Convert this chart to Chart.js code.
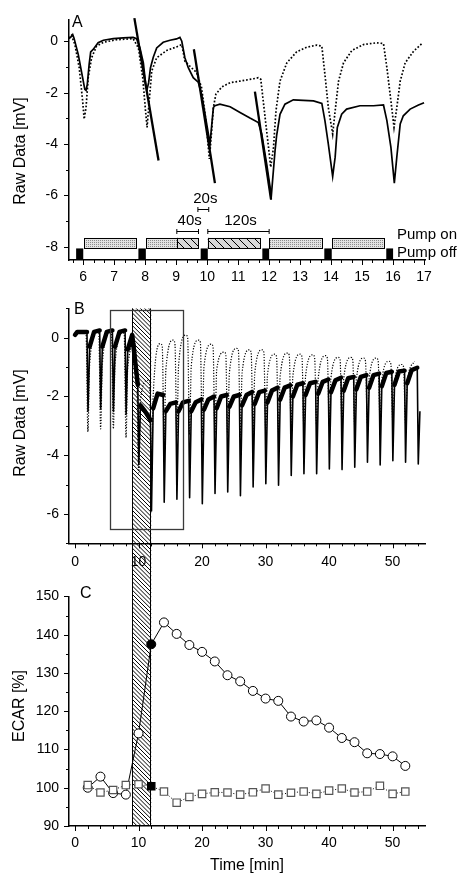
<!DOCTYPE html>
<html><head><meta charset="utf-8">
<script src="https://cdn.jsdelivr.net/npm/chart.js@4/dist/chart.umd.min.js"></script>
<style>
html,body{margin:0;padding:0;background:#fff;width:461px;height:878px;overflow:hidden}
.wrap{position:absolute;left:0;width:461px}
canvas{display:block}
</style></head><body>
<div class="wrap" style="top:0;height:290px"><canvas id="cA" width="461" height="290"></canvas></div>
<div class="wrap" style="top:290px;height:288px"><canvas id="cB" width="461" height="288"></canvas></div>
<div class="wrap" style="top:578px;height:300px"><canvas id="cC" width="461" height="300"></canvas></div>
<script>
// ---------------- DATA ----------------
// Panel A (zoom, 5.5 - 17 min)
const aSolid = [[5.54,0.10],[5.62,0.19],[5.66,0.26],[5.70,0.13],[5.84,-0.52],[5.98,-1.42],[6.05,-1.87],[6.09,-1.91],[6.13,-1.68],[6.19,-0.90],[6.24,-0.41],[6.32,-0.32],[6.48,-0.06],[6.65,0.04],[6.97,0.10],[7.29,0.13],[7.61,0.15],[7.72,0.10],
[7.83,-0.26],[7.94,-0.84],[8.02,-1.74],[8.06,-1.87],[8.11,-1.61],[8.17,-1.03],[8.26,-0.62],[8.37,-0.26],[8.58,-0.04],[8.80,0.04],[9.01,0.09],[9.12,0.15],[9.18,0.0],
[9.28,-0.64],[9.39,-1.03],[9.55,-1.42],[9.71,-1.59],[9.82,-2.06],[9.93,-2.84],[10.04,-3.61],[10.09,-4.0],[10.14,-3.35],[10.20,-2.58],[10.25,-2.51],[10.41,-2.45],[10.74,-2.55],[11.06,-2.77],[11.38,-2.99],[11.65,-3.16],
[11.76,-3.61],[11.92,-4.77],[12.03,-5.67],[12.06,-6.16],[12.11,-5.42],[12.19,-4.26],[12.24,-3.68],[12.35,-2.84],[12.51,-2.45],[12.78,-2.28],[13.10,-2.30],[13.43,-2.32],[13.70,-2.42],
[13.80,-3.09],[13.91,-4.0],[14.05,-5.26],[14.13,-4.51],[14.20,-3.35],[14.34,-2.84],[14.50,-2.64],[14.93,-2.51],[15.37,-2.51],[15.69,-2.48],
[15.80,-3.09],[15.93,-4.13],[16.04,-5.52],[16.12,-4.51],[16.23,-3.22],[16.33,-2.90],[16.55,-2.64],[16.82,-2.48],[17.0,-2.39]];
const aDotted = [[5.54,0.12],[5.62,0.23],[5.73,-0.13],[5.87,-1.03],[5.98,-2.32],[6.03,-3.03],[6.09,-2.58],[6.16,-1.42],[6.27,-0.64],[6.43,-0.19],[6.65,-0.04],[7.08,0.06],[7.61,0.10],
[7.78,-0.26],[7.92,-1.42],[8.01,-2.71],[8.06,-3.35],[8.12,-2.45],[8.21,-1.16],[8.37,-0.64],[8.69,-0.36],[9.01,-0.22],[9.18,-0.13],
[9.28,-0.77],[9.44,-0.97],[9.66,-1.22],[9.82,-1.81],[9.96,-3.09],[10.07,-4.58],[10.12,-3.87],[10.20,-2.58],[10.28,-2.06],[10.47,-1.78],[10.74,-1.61],[11.06,-1.55],[11.49,-1.46],[11.65,-1.42],[11.73,-1.48],
[11.87,-2.97],[11.98,-4.13],[12.05,-4.90],[12.14,-4.13],[12.22,-2.71],[12.35,-1.55],[12.57,-0.84],[12.89,-0.41],[13.21,-0.23],[13.54,-0.15],[13.70,-0.19],
[13.80,-1.29],[13.91,-2.58],[14.05,-3.61],[14.13,-2.71],[14.24,-1.55],[14.40,-0.84],[14.67,-0.36],[15.04,-0.13],[15.47,-0.06],[15.69,-0.09],
[15.80,-1.03],[15.93,-2.32],[16.03,-3.35],[16.12,-2.58],[16.23,-1.55],[16.39,-0.84],[16.66,-0.39],[16.96,-0.06]];
const aSlope1 = [[7.65,0.90],[8.43,-4.64]];
const aSlope2 = [[9.57,-0.31],[10.25,-5.52]];
const aSlope3 = [[11.54,-1.96],[12.06,-6.15]];
const aXTicks = [6,7,8,9,10,11,12,13,14,15,16,17];
const aYTicks = [-8,-6,-4,-2,0];
const pumpOnSpans = [[6.03,7.70],[8.03,9.72],[10.02,11.70],[12.0,13.70],[14.03,15.70]];
const pumpHatchSpans = [[9.02,9.72],[10.02,11.70]];
const pumpOffSpans = [[5.77,6.0],[7.78,8.02],[9.79,10.02],[11.78,12.0],[13.78,14.02],[15.78,16.0]];
const pumpOnLevel = [-8.05,-7.65];
const pumpOffLevel = [-8.51,-8.06];
const bracketLabels = ['20s','40s','120s'];
const bracketSpans = [[9.70,10.05],[9.02,9.72],[10.02,12.0]];
const bracketLevels = [-6.54,-7.38,-7.38];
const pumpLabels = ['Pump on','Pump off'];

// Panel B (whole experiment)
const bDipTimes  = [2,4,6,8,10,12,14,16,18,20,22,24,26,28,30,32,34,36,38,40,42,44,46,48,50,52,54];
const bSolidPre  = [0.2,0.25,0.25,0.25,-1.6,-2.8,-1.95,-2.2,-2.15,-2.1,-2.0,-1.95,-1.95,-1.85,-1.8,-1.7,-1.62,-1.55,-1.5,-1.42,-1.36,-1.33,-1.27,-1.22,-1.16,-1.12,-1.02];
const bSolidMin  = [-2.5,-2.4,-2.5,-2.6,-4.3,-5.9,-5.6,-5.5,-5.45,-5.65,-5.3,-5.25,-5.38,-5.08,-4.97,-5.02,-4.69,-4.63,-4.63,-4.47,-4.49,-4.41,-4.24,-4.33,-4.19,-4.24,-4.3];
const bSolidPost = [-0.3,-0.3,-0.3,-0.4,-2.3,-2.4,-2.5,-2.5,-2.5,-2.45,-2.4,-2.35,-2.3,-2.25,-2.2,-2.1,-2.0,-1.95,-1.9,-1.85,-1.8,-1.75,-1.7,-1.65,-1.6,-1.55,-2.5];
const bSolidMid  = [0.2,0.2,0.2,0.1,-2.5,-1.9,-2.25,-2.2,-2.2,-2.1,-2.0,-2.0,-1.95,-1.85,-1.8,-1.7,-1.6,-1.55,-1.5,-1.45,-1.38,-1.33,-1.27,-1.2,-1.15,-1.1,null];
const bSolidStart = [[0,0.1],[0.35,0.2]];
const bDotTimes = [2,4,6,8,10,12,14,16,18,20,22,24,26,28,30,32,34,36,38,40,42,44,46,48,50,52];
const bDotPre  = [0.15,0.2,0.2,0.15,-1.3,-1.5,-0.3,-0.2,0.0,-0.15,-0.3,-0.55,-0.45,-0.5,-0.5,-0.65,-0.6,-0.65,-0.7,-0.7,-0.75,-0.75,-0.8,-0.8,-0.9,-1.0];
const bDotMin  = [-3.2,-3.1,-3.1,-3.4,-4.6,-4.9,-3.6,-3.35,-3.3,-3.3,-3.3,-3.3,-3.3,-3.2,-3.2,-3.2,-3.1,-3.1,-3.0,-3.0,-3.0,-3.0,-2.9,-2.9,-2.9,-2.9];
const bDotKnee = [-0.9,-0.9,-0.9,-1.0,-2.1,-2.0,-1.1,-0.95,-0.95,-1.0,-1.1,-1.2,-1.2,-1.2,-1.25,-1.3,-1.3,-1.3,-1.35,-1.35,-1.4,-1.4,-1.4,-1.45,-1.5,-1.55];
const bDotPeak = [0.2,0.2,0.15,-0.2,-1.45,-0.2,-0.08,0.09,-0.08,-0.22,-0.49,-0.36,-0.41,-0.41,-0.56,-0.52,-0.56,-0.58,-0.61,-0.67,-0.67,-0.69,-0.69,-0.8,-0.91,-0.8];
const bDotStart = [[0,0.05],[0.5,0.15]];
const bInsetX = [5.5,17.0];
const bInsetY = [-6.5,0.95];
const bXTicks = [0,10,20,30,40,50];
const bYTicks = [-6,-4,-2,0];

// Panel C (ECAR)
const cTimes   = [2,4,6,8,10,12,14,16,18,20,22,24,26,28,30,32,34,36,38,40,42,44,46,48,50,52];
const cCircles = [100,102.9,98.6,98.2,114.2,137.5,143.2,140.2,137.3,135.5,133,129.4,127.8,125.3,123.3,122.7,118.6,117.3,117.6,115.7,113,111.9,109,108.8,108.2,105.7];
const cSquares = [100.7,98.75,99.4,100.7,100.9,100.4,99,96.1,97.6,98.4,98.8,98.75,98.2,98.8,99.8,98.2,98.7,99,98.4,99.25,99.8,98.75,99,100.5,98.4,99];
const cFilledTime = 12;
const cXTicks = [0,10,20,30,40,50];
const cYTicks = [90,100,110,120,130,140,150];
const treatmentSpan = [9,12];

// ---------------- HELPERS ----------------
const FONT = '"Liberation Sans", Arial, Helvetica, sans-serif';
Chart.defaults.font.family = FONT;
Chart.defaults.font.size = 14;
Chart.defaults.color = '#000';
const xy = arr => arr.map(([x,y]) => ({x,y}));

function linAxis(min, max, majors, padding, fit) {
  return {
    type: 'linear', min, max,
    border: {display: true, color: '#000', width: 1.5},
    grid: {display: true, drawOnChartArea: false, drawTicks: false, color: 'rgba(0,0,0,0)'},
    ticks: {padding, color: '#000', font: {size: 14, family: FONT}, autoSkip: false, maxRotation: 0, callback: v => String(v)},
    afterBuildTicks: s => { s.ticks = majors.map(v => ({value: v})); },
    afterFit: fit
  };
}
function makeTicks(cfg) {
  return { id: 'tickMarks', afterDraw(chart) {
    const {ctx, chartArea: ca} = chart;
    ctx.save(); ctx.strokeStyle = '#000'; ctx.lineWidth = 1;
    for (const id of Object.keys(cfg)) {
      const s = chart.scales[id], c = cfg[id];
      for (let k = Math.ceil(s.min / c.step - 1e-6); k * c.step <= s.max + 1e-6; k++) {
        const v = k * c.step;
        const major = c.majors.some(m => Math.abs(m - v) < 1e-6);
        const len = major ? 5 : 3;
        const p = Math.round(s.getPixelForValue(v)) + 0.5;
        ctx.beginPath();
        if (s.isHorizontal()) { ctx.moveTo(p, ca.bottom); ctx.lineTo(p, ca.bottom + len); }
        else { ctx.moveTo(ca.left, p); ctx.lineTo(ca.left - len, p); }
        ctx.stroke();
      }
    }
    ctx.restore();
  }};
}
function makeTexts(items) {
  return { id: 'texts', afterDraw(chart) {
    const ctx = chart.ctx;
    items.forEach(t => {
      ctx.save();
      ctx.font = (t.size || 14) + 'px ' + FONT;
      ctx.fillStyle = '#000';
      ctx.textAlign = t.align || 'center';
      ctx.textBaseline = t.base || 'middle';
      ctx.translate(t.x, t.y);
      if (t.rot) ctx.rotate(t.rot);
      ctx.fillText(t.text, 0, 0);
      ctx.restore();
    });
  }};
}
function hatch(ctx, x0, y0, x1, y1, spacing, pageOff, lw) {
  ctx.save();
  ctx.beginPath(); ctx.rect(x0, y0, x1 - x0, y1 - y0); ctx.clip();
  ctx.beginPath();
  const cMin = (y0 + pageOff) - x1, cMax = (y1 + pageOff) - x0;
  for (let c = Math.floor(cMin / spacing) * spacing; c <= cMax + spacing; c += spacing) {
    ctx.moveTo(x0 - 2, x0 - 2 + c - pageOff);
    ctx.lineTo(x1 + 2, x1 + 2 + c - pageOff);
  }
  ctx.lineWidth = lw; ctx.strokeStyle = '#000'; ctx.stroke();
  ctx.restore();
}
function makeBand(pageOff, mode) {
  return { id: 'band', beforeDatasetsDraw(chart) {
    const {ctx, chartArea: ca, scales: {x}} = chart;
    const x0 = x.getPixelForValue(treatmentSpan[0]), x1 = x.getPixelForValue(treatmentSpan[1]);
    const y0 = mode === 'B' ? ca.top : 0;
    const y1 = mode === 'B' ? chart.height : ca.bottom;
    ctx.save();
    hatch(ctx, x0, y0, x1, y1, 4.2, pageOff, 1);
    ctx.strokeStyle = '#000'; ctx.lineWidth = 1;
    ctx.beginPath();
    ctx.moveTo(Math.round(x0) + 0.5, y0); ctx.lineTo(Math.round(x0) + 0.5, y1);
    ctx.moveTo(Math.round(x1) - 0.5, y0); ctx.lineTo(Math.round(x1) - 0.5, y1);
    ctx.stroke();
    ctx.restore();
  }};
}
const baseOpts = {responsive: false, animation: false, events: []};
const noPlug = {legend: {display: false}, tooltip: {enabled: false}};

// stipple pattern for pump bars
const pc = document.createElement('canvas'); pc.width = 2; pc.height = 2;
const pcx = pc.getContext('2d');
pcx.fillStyle = '#e2e2e2'; pcx.fillRect(0, 0, 2, 2);
pcx.fillStyle = '#8c8c8c'; pcx.fillRect(0, 0, 1, 1);

// ---------------- CHART A ----------------
const pumpPlugin = { id: 'pump', afterDatasetsDraw(chart) {
  const {ctx, scales: {x, y}} = chart;
  const X = v => x.getPixelForValue(v), Y = v => y.getPixelForValue(v);
  ctx.save();
  const pat = ctx.createPattern(pc, 'repeat');
  const yt = Y(pumpOnLevel[1]), yb = Y(pumpOnLevel[0]);
  pumpOnSpans.forEach(([a, b]) => { ctx.fillStyle = pat; ctx.fillRect(X(a), yt, X(b) - X(a), yb - yt); });
  pumpHatchSpans.forEach(([a, b]) => {
    ctx.fillStyle = '#d9d9d9'; ctx.fillRect(X(a), yt, X(b) - X(a), yb - yt);
    hatch(ctx, X(a), yt, X(b), yb, 8, 0, 1);
  });
  ctx.strokeStyle = '#000'; ctx.lineWidth = 1;
  pumpOnSpans.forEach(([a, b]) => { ctx.strokeRect(Math.round(X(a)) + 0.5, Math.round(yt) + 0.5, Math.round(X(b) - X(a)), Math.round(yb - yt)); });
  ctx.beginPath();
  pumpHatchSpans.forEach(([a]) => { ctx.moveTo(Math.round(X(a)) + 0.5, yt); ctx.lineTo(Math.round(X(a)) + 0.5, yb); });
  ctx.stroke();
  ctx.fillStyle = '#000';
  const ot = Y(pumpOffLevel[1]), ob = Y(pumpOffLevel[0]);
  pumpOffSpans.forEach(([a, b]) => ctx.fillRect(X(a), ot, X(b) - X(a), ob - ot));
  // brackets
  ctx.lineWidth = 1;
  bracketSpans.forEach(([a, b], i) => {
    const yy = Math.round(Y(bracketLevels[i])) + 0.5;
    ctx.beginPath();
    ctx.moveTo(X(a), yy); ctx.lineTo(X(b), yy);
    ctx.moveTo(X(a), yy - 2.5); ctx.lineTo(X(a), yy + 2.5);
    ctx.moveTo(X(b), yy - 2.5); ctx.lineTo(X(b), yy + 2.5);
    ctx.stroke();
    ctx.font = '15px ' + FONT; ctx.textAlign = 'center'; ctx.textBaseline = 'alphabetic';
    ctx.fillText(bracketLabels[i], (X(a) + X(b)) / 2 + 2, yy - 7);
  });
  ctx.font = '15px ' + FONT; ctx.textAlign = 'left'; ctx.textBaseline = 'middle';
  ctx.fillText(pumpLabels[0], 397, 235);
  ctx.fillText(pumpLabels[1], 397, 252.5);
  ctx.restore();
}};

new Chart(document.getElementById('cA'), {
  type: 'line',
  data: {datasets: [
    {data: xy(aSolid), borderColor: '#000', borderWidth: 1.7, pointRadius: 0, tension: 0},
    {data: xy(aDotted), borderColor: '#000', borderWidth: 1.7, borderDash: [1.7, 1.9], pointRadius: 0, tension: 0},
    {data: xy(aSlope1), borderColor: '#000', borderWidth: 2.3, pointRadius: 0, clip: false},
    {data: xy(aSlope2), borderColor: '#000', borderWidth: 2.3, pointRadius: 0, clip: false},
    {data: xy(aSlope3), borderColor: '#000', borderWidth: 2.3, pointRadius: 0, clip: false}
  ]},
  options: Object.assign({}, baseOpts, {
    layout: {padding: {left: 0, right: 36, top: 18, bottom: 0}},
    scales: {
      x: linAxis(5.54, 17.03, aXTicks, 9, s => { s.height = 30; }),
      y: linAxis(-8.51, 0.85, aYTicks, 11, s => { s.width = 69; })
    },
    plugins: noPlug
  }),
  plugins: [pumpPlugin,
    makeTicks({x: {majors: aXTicks, step: 1/3}, y: {majors: aYTicks, step: 1}}),
    makeTexts([
      {text: 'A', x: 72, y: 27, size: 16, align: 'left', base: 'alphabetic'},
      {text: 'Raw Data [mV]', x: 21, y: 151, size: 16, rot: -Math.PI / 2}
    ])]
});

// ---------------- CHART B ----------------
const bSolid = xy(bSolidStart);
bDipTimes.forEach((t, i) => {
  bSolid.push({x: t - 0.12, y: bSolidPre[i]}, {x: t + 0.04, y: bSolidMin[i]}, {x: t + 0.3, y: bSolidPost[i]});
  if (bSolidMid[i] !== null) bSolid.push({x: t + 1.0, y: bSolidMid[i]});
});
const bDot = xy(bDotStart);
bDotTimes.forEach((t, i) => {
  bDot.push({x: t - 0.27, y: bDotPre[i]}, {x: t + 0.03, y: bDotMin[i]}, {x: t + 0.3, y: bDotKnee[i]}, {x: t + 1.45, y: bDotPeak[i]});
});
const insetPlugin = { id: 'inset', afterDatasetsDraw(chart) {
  const {ctx, scales: {x, y}} = chart;
  const x0 = Math.round(x.getPixelForValue(bInsetX[0])) + 0.5, x1 = Math.round(x.getPixelForValue(bInsetX[1])) + 0.5;
  const y0 = Math.round(y.getPixelForValue(bInsetY[1])) + 0.5, y1 = Math.round(y.getPixelForValue(bInsetY[0])) + 0.5;
  ctx.save(); ctx.strokeStyle = '#3a3a3a'; ctx.lineWidth = 1.3;
  ctx.strokeRect(x0, y0, x1 - x0, y1 - y0); ctx.restore();
}};
const thickSeg = c => (c.p1.parsed.x - c.p0.parsed.x) >= 0.34;
new Chart(document.getElementById('cB'), {
  type: 'line',
  data: {datasets: [
    {data: bSolid, borderColor: '#000', borderWidth: 1.6, pointRadius: 0, tension: 0, borderJoinStyle: 'round',
     segment: {borderWidth: c => thickSeg(c) ? 4.5 : 1.6, borderCapStyle: c => thickSeg(c) ? 'round' : 'butt'}},
    {data: bDot, borderColor: '#000', borderWidth: 1.2, borderDash: [1.2, 1.6], pointRadius: 0, cubicInterpolationMode: 'monotone'}
  ]},
  options: Object.assign({}, baseOpts, {
    layout: {padding: {left: 0, right: 36, top: 13.3, bottom: 0}},
    scales: {
      x: linAxis(-0.95, 55.1, bXTicks, 10, s => { s.height = 34.7; }),
      y: linAxis(-7, 1, bYTicks, 10, s => { s.width = 69; })
    },
    plugins: noPlug
  }),
  plugins: [makeBand(290, 'B'), insetPlugin,
    makeTicks({x: {majors: bXTicks, step: 2}, y: {majors: bYTicks, step: 1}}),
    makeTexts([
      {text: 'B', x: 74, y: 23.5, size: 16, align: 'left', base: 'alphabetic'},
      {text: 'Raw Data [mV]', x: 21, y: 133, size: 16, rot: -Math.PI / 2}
    ])]
});

// ---------------- CHART C ----------------
const fillFor = t => t === cFilledTime ? '#000' : '#fff';
new Chart(document.getElementById('cC'), {
  type: 'line',
  data: {datasets: [
    {data: cTimes.map((t, i) => ({x: t, y: cSquares[i]})), borderColor: '#000', borderWidth: 1, borderDash: [1, 2],
     pointStyle: 'rect', pointRadius: 5.2, pointBorderWidth: 1.2,
     pointBorderColor: cTimes.map(t => t === cFilledTime ? '#000' : '#555'),
     pointBackgroundColor: cTimes.map(fillFor)},
    {data: cTimes.map((t, i) => ({x: t, y: cCircles[i]})), borderColor: '#000', borderWidth: 1,
     pointStyle: 'circle', pointRadius: 4.5, pointBorderWidth: 1, pointBorderColor: '#000',
     pointBackgroundColor: cTimes.map(fillFor)}
  ]},
  options: Object.assign({}, baseOpts, {
    layout: {padding: {left: 0, right: 36, top: 8.7, bottom: 0}},
    scales: {
      x: linAxis(-0.95, 55.1, cXTicks, 9, s => { s.height = 52; }),
      y: linAxis(90, 150, cYTicks, 10, s => { s.width = 69; })
    },
    plugins: noPlug
  }),
  plugins: [makeBand(578, 'C'),
    makeTicks({x: {majors: cXTicks, step: 2}, y: {majors: cYTicks, step: 5}}),
    makeTexts([
      {text: 'C', x: 80, y: 20, size: 16, align: 'left', base: 'alphabetic'},
      {text: 'ECAR [%]', x: 20, y: 128, size: 16, rot: -Math.PI / 2},
      {text: 'Time [min]', x: 247, y: 288, size: 16}
    ])]
});
</script>
</body></html>
